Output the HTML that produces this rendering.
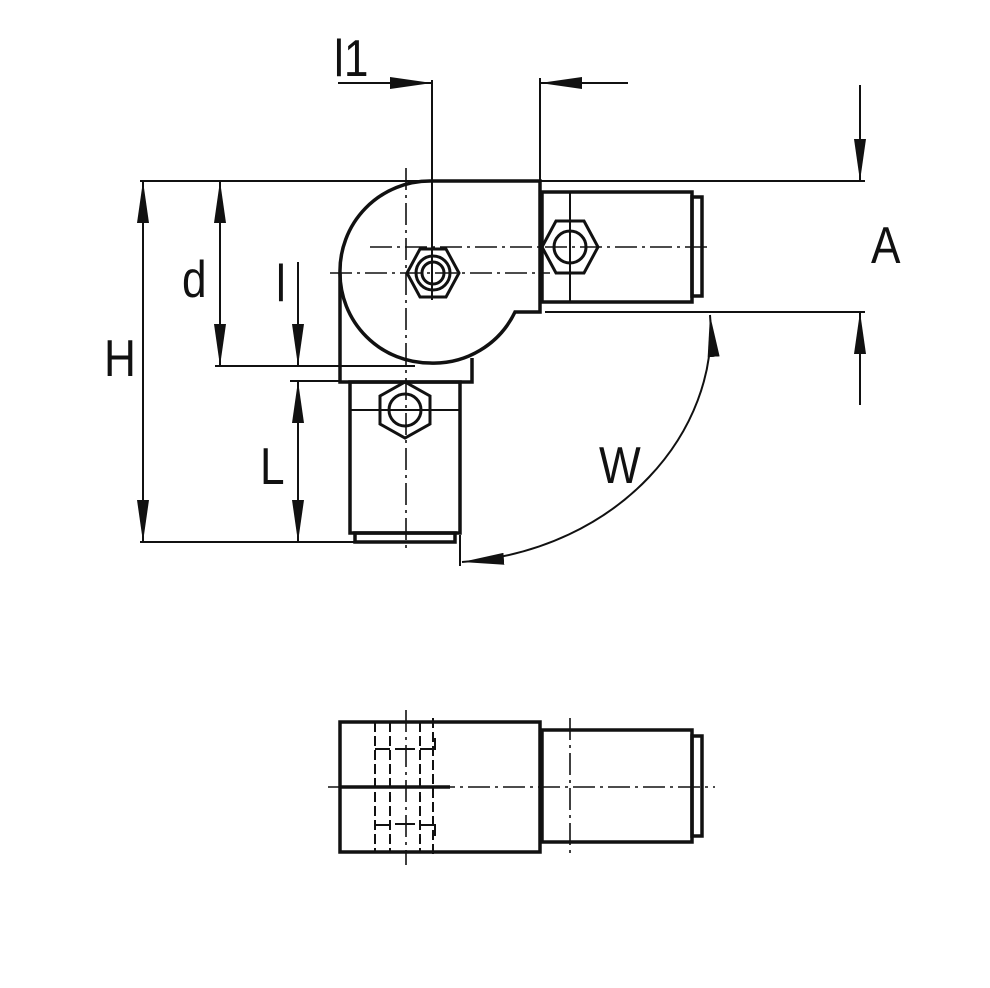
<!DOCTYPE html>
<html><head><style>html,body{margin:0;padding:0;background:#fff}svg{display:block}</style></head>
<body>
<svg width="990" height="988" viewBox="0 0 990 988" xmlns="http://www.w3.org/2000/svg">
<defs>
<marker id="ar" viewBox="0 0 42 12" refX="42" refY="6" markerWidth="42" markerHeight="12" markerUnits="userSpaceOnUse" orient="auto-start-reverse">
<path d="M0,0 L42,6 L0,12 Z" fill="#111"/></marker>
</defs>
<rect width="990" height="988" fill="#fff"/>
<g fill="none" stroke="#111" stroke-linecap="butt">
<g stroke-width="2">
<line x1="140" y1="181" x2="540" y2="181"/>
<line x1="540" y1="181" x2="865" y2="181"/>
<line x1="545" y1="312" x2="865" y2="312"/>
<line x1="140" y1="542" x2="356" y2="542"/>
<line x1="215" y1="366" x2="415" y2="366"/>
<line x1="290" y1="381" x2="340" y2="381"/>
<line x1="432" y1="80" x2="432" y2="300"/>
<line x1="540" y1="78" x2="540" y2="181"/>
<line x1="460" y1="535" x2="460" y2="566"/>
<line x1="350" y1="410" x2="460" y2="410"/>
<line x1="570" y1="192" x2="570" y2="302"/>
<line x1="338" y1="83" x2="432" y2="83" marker-end="url(#ar)"/>
<line x1="628" y1="83" x2="540" y2="83" marker-end="url(#ar)"/>
<line x1="143" y1="181" x2="143" y2="542" marker-start="url(#ar)" marker-end="url(#ar)"/>
<line x1="220" y1="181" x2="220" y2="366" marker-start="url(#ar)" marker-end="url(#ar)"/>
<line x1="298" y1="262" x2="298" y2="366" marker-end="url(#ar)"/>
<line x1="298" y1="381" x2="298" y2="542" marker-start="url(#ar)" marker-end="url(#ar)"/>
<line x1="860" y1="85" x2="860" y2="181" marker-end="url(#ar)"/>
<line x1="860" y1="405" x2="860" y2="312" marker-end="url(#ar)"/>
<path d="M710,315 C720,430 620,550 462,562" marker-start="url(#ar)" marker-end="url(#ar)"/>
</g>
<g stroke-width="1.6" stroke-dasharray="22,5,3,5">
<line x1="370" y1="247" x2="712" y2="247"/>
<line x1="330" y1="273" x2="550" y2="273"/>
<line x1="406" y1="168" x2="406" y2="552"/>
<line x1="328" y1="787" x2="715" y2="787"/>
<line x1="570" y1="718" x2="570" y2="855"/>
<line x1="406" y1="710" x2="406" y2="865"/>
</g>
<g stroke-width="3.5">
<path d="M430,181 L540,181 L540,312 L515,312 A90,90 0 0 1 430,363 A90,90 0 0 1 340,273 A90,90 0 0 1 430,181 Z"/>
<path d="M340,273 L340,382 L472,382 L472,358"/>
<rect x="542" y="192" width="150" height="110"/>
<rect x="692" y="197" width="10" height="99"/>
<rect x="350" y="382" width="110" height="151"/>
<rect x="355" y="533" width="100" height="9"/>
<polygon points="542,247 556,221 584,221 598,247 584,273 556,273" stroke-width="3"/>
<circle cx="570" cy="247" r="16" stroke-width="3"/>
<polygon points="405,382 430,396 430,424 405,438 380,424 380,396" stroke-width="3"/>
<circle cx="405" cy="410" r="16" stroke-width="3"/>
<polygon points="407,273 420,249 446,249 459,273 446,297 420,297" stroke-width="3"/>
<circle cx="433" cy="273" r="17" stroke-width="3"/>
<circle cx="433" cy="273" r="11" stroke-width="3"/>
</g>
<g stroke-width="3.5">
<rect x="340" y="722" width="200" height="130"/>
<rect x="542" y="730" width="150" height="112"/>
<rect x="692" y="736" width="10" height="100"/>
<line x1="340" y1="787" x2="450" y2="787"/>
</g>
<g stroke-width="2" stroke-dasharray="10,4">
<line x1="375" y1="722" x2="375" y2="852"/>
<line x1="390" y1="722" x2="390" y2="852"/>
<line x1="420" y1="722" x2="420" y2="852"/>
<line x1="433" y1="718" x2="433" y2="855"/>
</g>
<g stroke-width="2">
<path d="M375,749 L390,749 M395,749 L415,749 M420,749 L435,749 L435,738"/>
<path d="M375,825 L390,825 M395,824 L415,824 M420,825 L435,825 L435,836"/>
</g>
</g>
<g font-family="'Liberation Sans',sans-serif" font-size="52" fill="#111">
<text transform="translate(334,76) scale(0.85,1)">l1</text>
<text transform="translate(104,376) scale(0.85,1)">H</text>
<text transform="translate(182,297) scale(0.85,1)">d</text>
<text transform="translate(276,301) scale(0.85,1)">l</text>
<text transform="translate(260,484) scale(0.85,1)">L</text>
<text transform="translate(871,263) scale(0.85,1)">A</text>
<text transform="translate(599,483) scale(0.85,1)">W</text>
</g>
</svg>
</body></html>
